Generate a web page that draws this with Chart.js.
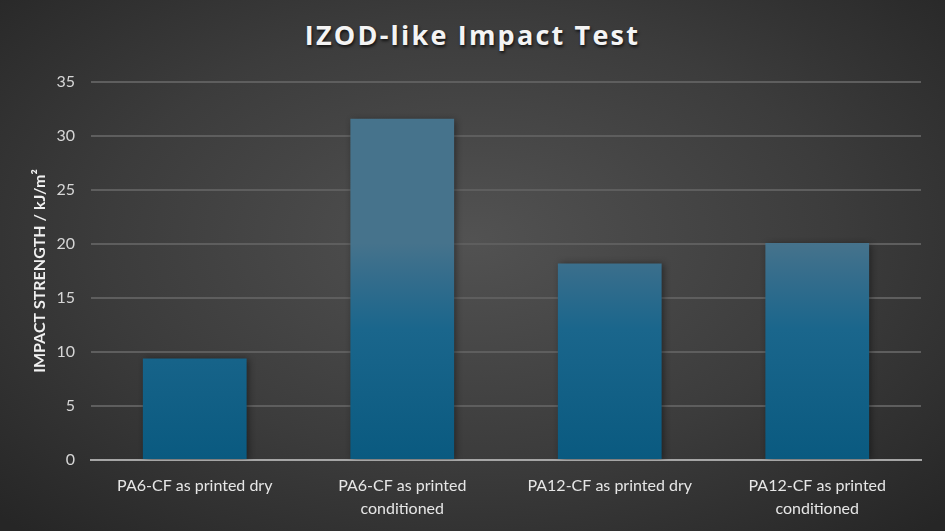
<!DOCTYPE html>
<html>
<head>
<meta charset="utf-8">
<script src="https://cdn.jsdelivr.net/npm/chart.js@4/dist/chart.umd.min.js"></script>
<style>
  html, body { margin: 0; padding: 0; }
  body { width: 945px; height: 531px; overflow: hidden; }
  #wrap {
    position: relative; width: 945px; height: 531px;
    background: radial-gradient(ellipse 70% 75% at 50% 45%, #525252 0%, #3c3c3c 55%, #262626 100%);
  }
  #title {
    position: absolute; left: 0; top: 16px; width: 945px; text-align: center;
    font-family: "Open Sans", sans-serif; font-weight: 700; font-size: 27px;
    letter-spacing: 2.2px; color: #f4f4f4;
    text-shadow: 1px 2px 3px rgba(0,0,0,0.7);
  }
  canvas { position: absolute; left: 0; top: 0; }
</style>
</head>
<body>
<div id="wrap">
  <div id="title">IZOD-like Impact Test</div>
  <canvas id="chart" width="945" height="531"></canvas>
</div>
<script>
const categories = [
  'PA6-CF as printed dry',
  ['PA6-CF as printed', 'conditioned'],
  'PA12-CF as printed dry',
  ['PA12-CF as printed', 'conditioned']
];
const impactStrength = [9.4, 31.6, 18.2, 20.1];
const yMin = 0, yMax = 35, yStep = 5;

// per-bar vertical gradient + soft shadow
const barLook = {
  id: 'barLook',
  beforeDatasetsDraw(chart) {
    const ctx = chart.ctx;
    chart.getDatasetMeta(0).data.forEach(el => {
      const g = ctx.createLinearGradient(0, el.y, 0, el.base);
      g.addColorStop(0, '#46738c');
      g.addColorStop(0.15, '#356d8c');
      g.addColorStop(0.4, '#1a668c');
      g.addColorStop(1, '#0a5a80');
      el.options.backgroundColor = g;
    });
    ctx.save();
    ctx.shadowColor = 'rgba(0,0,0,0.45)';
    ctx.shadowBlur = 7;
    ctx.shadowOffsetX = 2;
    ctx.shadowOffsetY = 1;
  },
  afterDatasetsDraw(chart) {
    chart.ctx.restore();
  }
};

new Chart(document.getElementById('chart'), {
  type: 'bar',
  data: {
    labels: categories,
    datasets: [{
      data: impactStrength,
      backgroundColor: '#1a6890',
      borderWidth: 0,
      barPercentage: 0.5,
      categoryPercentage: 1
    }]
  },
  options: {
    responsive: false,
    animation: false,
    layout: { padding: { top: 82, right: 24, left: 0, bottom: 0 } },
    plugins: { legend: { display: false }, tooltip: { enabled: false } },
    scales: {
      x: {
        grid: { display: false },
        border: { display: true, color: '#a6a6a6', width: 2 },
        ticks: {
          color: '#e6e6e6', padding: 6,
          font: { family: 'Lato', size: 16, lineHeight: 1.45 }
        },
        afterFit: s => { s.height = 71; }
      },
      y: {
        min: yMin, max: yMax,
        border: { display: false },
        grid: {
          color: c => c.tick.value === 0 ? '#a6a6a6' : '#5e5e5e',
          lineWidth: 2, drawTicks: false
        },
        ticks: {
          stepSize: yStep, color: '#d6d6d6', padding: 16,
          font: { family: 'Lato', size: 16 }
        },
        title: {
          display: true, text: 'IMPACT STRENGTH / kJ/m²', color: '#f0f0f0',
          font: { family: 'Lato', size: 16, weight: 'bold' }, padding: { top: 30, bottom: 0 }
        },
        afterFit: s => { s.width = 91; }
      }
    }
  },
  plugins: [barLook]
});
</script>
</body>
</html>
